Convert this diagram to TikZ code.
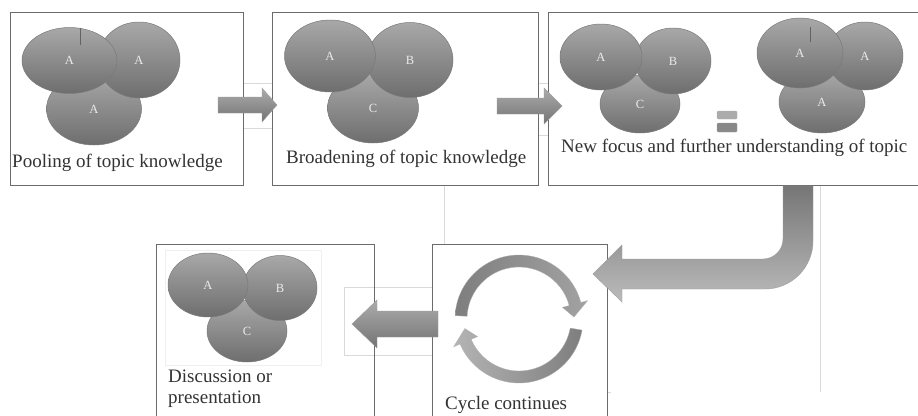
\documentclass[tikz,border=0pt]{standalone}
\usepackage{fontspec}
\setmainfont{Liberation Serif}
\usetikzlibrary{shapes.geometric}
\definecolor{panelline}{HTML}{6B6B6B}
\definecolor{faint}{HTML}{D9D9D9}
\definecolor{fainter}{HTML}{EFEFEF}
\definecolor{blobtop}{HTML}{A8A8A8}
\definecolor{blobbot}{HTML}{6E6E6E}
\definecolor{blobedge}{HTML}{7A7A7A}
\definecolor{arrtop}{HTML}{ACACAC}
\definecolor{arrbot}{HTML}{737373}
\definecolor{bendtop}{HTML}{767676}
\definecolor{bendbot}{HTML}{BBBBBB}
\definecolor{cycdark}{HTML}{7E7E7E}
\definecolor{cycmid}{HTML}{A2A2A2}
\definecolor{cyclight}{HTML}{B4B4B4}
\definecolor{cycwhite}{HTML}{E6E6E6}
\definecolor{txt}{HTML}{333333}
\definecolor{eqtop}{HTML}{ABABAB}
\definecolor{eqbot}{HTML}{888888}
\begin{document}
\begin{tikzpicture}[x=1pt,y=-1pt,
  panel/.style={draw=panelline, line width=0.9pt, rectangle, anchor=north west, inner sep=0pt},
  blob/.style={ellipse, draw=blobedge, line width=0.5pt, top color=blobtop, bottom color=blobbot, inner sep=0pt, text=white!92!black, font=\fontsize{12.5}{13}\selectfont},
  caption/.style={text=txt, font=\fontsize{19}{21}\selectfont, inner sep=0pt, align=left},
  faintline/.style={draw=faint, line width=0.5pt},
  blockarrow/.style={draw=gray!75, line width=0.4pt, top color=arrtop, bottom color=arrbot},
  mark line/.style={draw=blobedge!80!black, line width=0.5pt}
]
\useasboundingbox (0,0) rectangle (918,415);
\clip (0,0) rectangle (918,415);
\fill[white] (0,0) rectangle (918,415);

% faint table lines
\draw[faintline] (243,83) -- (272,83) (243,128) -- (272,128);
\draw[faintline] (538,83) -- (548,83) (538,135) -- (548,135);
\draw[faintline] (444,186) -- (444,244);
\draw[faintline] (344,287) rectangle (432,355);
\draw[faintline] (820,186) -- (820,392) (607,392) -- (611,392);
\draw[draw=fainter, line width=0.5pt] (165,250) rectangle (321,365);

% panels
\node[panel, minimum width=233pt, minimum height=173pt] (box1) at (10,12) {};
\node[panel, minimum width=266pt, minimum height=173pt] (box2) at (272,12) {};
\node[panel, minimum width=380pt, minimum height=173pt] (box3) at (548,12) {};
\node[panel, minimum width=218pt, minimum height=190pt] (box4) at (156,244) {};
\node[panel, minimum width=175pt, minimum height=190pt] (box5) at (432,244) {};

% group 1: pooling
\node[blob, minimum width=95pt, minimum height=72pt] (p3) at (94,109) {A};
\node[blob, minimum width=82pt, minimum height=76pt] (p2) at (139,60) {A};
\node[blob, minimum width=95pt, minimum height=66pt] (p1) at (69.5,60.5) {A};
\draw[mark line] (80,28) -- (80,45);

% group 2: broadening
\node[blob, minimum width=91pt, minimum height=70pt] (q3) at (373,108) {C};
\node[blob, minimum width=86pt, minimum height=75pt] (q2) at (410,60) {B};
\node[blob, minimum width=91pt, minimum height=72pt] (q1) at (330,56) {A};

% group 3: new focus (left)
\node[blob, minimum width=80pt, minimum height=58pt] (r3) at (640,104) {C};
\node[blob, minimum width=76pt, minimum height=66pt] (r2) at (673,61) {B};
\node[blob, minimum width=82pt, minimum height=66pt] (r1) at (601,57) {A};

% equals sign
\node[draw=gray!60, line width=0.3pt, fill=eqtop, rounded corners=1pt, minimum width=20pt, minimum height=8pt, inner sep=0pt] (eq1) at (727,115) {};
\node[draw=gray!70, line width=0.3pt, fill=eqbot, rounded corners=1pt, minimum width=20pt, minimum height=9pt, inner sep=0pt] (eq2) at (727,127.5) {};

% group 3: new focus (right)
\node[blob, minimum width=86pt, minimum height=62pt] (s3) at (822,102) {A};
\node[blob, minimum width=76pt, minimum height=68pt] (s2) at (865,56) {A};
\node[blob, minimum width=86pt, minimum height=70pt] (s1) at (800,53) {A};
\draw[mark line] (810,27) -- (810,42);

% group 4: discussion
\node[blob, minimum width=80pt, minimum height=62pt] (u3) at (247,331) {C};
\node[blob, minimum width=74pt, minimum height=65pt] (u2) at (280,288) {B};
\node[blob, minimum width=80pt, minimum height=64pt] (u1) at (208,285) {A};

% captions
\node[caption, anchor=base west] (c1) at (12,167) {Pooling of topic knowledge};
\node[caption, anchor=base west] (c2) at (286,163) {Broadening of topic knowledge};
\node[caption, anchor=base west] (c3) at (561,152) {New focus and further understanding of topic};
\node[caption, anchor=base west] (c4) at (168,403) {Discussion or\\presentation};
\node[caption, anchor=base west] (c5) at (445,409) {Cycle continues};

% block arrows
\path[blockarrow] (218,97) -- (262,97) -- (262,88) -- (277,105) -- (262,122) -- (262,113) -- (218,113) -- cycle;
\path[blockarrow] (497,98) -- (544,98) -- (544,88) -- (562,106) -- (544,124) -- (544,114) -- (497,114) -- cycle;
\path[blockarrow] (438,311) -- (377,311) -- (377,300) -- (352,324) -- (377,348) -- (377,337) -- (438,337) -- cycle;

% bent arrow from box3 down to box5
\path[draw=gray!75, line width=0.4pt, top color=bendtop, bottom color=bendbot]
  (783,186) -- (783,239) arc[start angle=0, end angle=90, radius=20]
  -- (622,259) -- (622,245) -- (593,274) -- (622,302) -- (622,289)
  -- (765,289) arc[start angle=90, end angle=0, radius=48]
  -- (813,186) -- cycle;

% cycle arrows
\begin{scope}[shift={(519,319)}]
  \path[draw=gray!60, line width=0.3pt, left color=cycdark, middle color=cycwhite, right color=cycmid]
    (183:64) arc[start angle=183, end angle=345, radius=64]
    -- (345:71) -- (358:55) -- (345:45) -- (345:52)
    arc[start angle=345, end angle=183, radius=52] -- cycle;
  \path[draw=gray!60, line width=0.3pt, left color=cyclight, middle color=cycwhite, right color=cycdark]
    (10:64) arc[start angle=10, end angle=157, radius=64]
    -- (157:71) -- (170:55) -- (157:45) -- (157:52)
    arc[start angle=157, end angle=10, radius=52] -- cycle;
\end{scope}
\end{tikzpicture}
\end{document}
